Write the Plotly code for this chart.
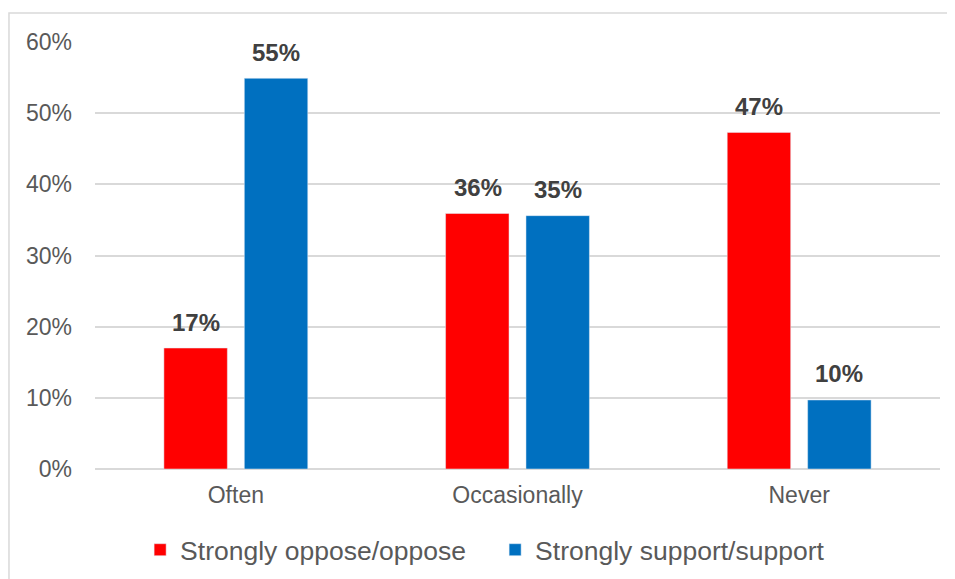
import plotly.graph_objects as go

categories = ["Often", "Occasionally", "Never"]
oppose = [0.17, 0.359, 0.473]
support = [0.549, 0.356, 0.097]
oppose_labels = ["17%", "36%", "47%"]
support_labels = ["55%", "35%", "10%"]
series_names = ["Strongly oppose/oppose", "Strongly support/support"]
tick_vals = [0, 0.1, 0.2, 0.3, 0.4, 0.5, 0.6]
tick_text = ["0%", "10%", "20%", "30%", "40%", "50%", "60%"]

RED = "#FF0000"
BLUE = "#0070C0"
FONT = "Liberation Sans, Arial, sans-serif"

fig = go.Figure()
fig.add_trace(go.Bar(x=categories, y=oppose, name=series_names[0], marker_color=RED))
fig.add_trace(go.Bar(x=categories, y=support, name=series_names[1], marker_color=BLUE))

annotations = []
for vals, labs, shift in [(oppose, oppose_labels, -40), (support, support_labels, 40)]:
    for c, v, t in zip(categories, vals, labs):
        annotations.append(dict(x=c, y=v, xref="x", yref="y", text="<b>" + t + "</b>",
                                showarrow=False, xshift=shift, yshift=26, yanchor="middle",
                                font=dict(family=FONT, size=24, color="#404040")))

fig.update_layout(
    width=947, height=571,
    margin=dict(l=87, r=15, t=34, b=110, autoexpand=False),
    paper_bgcolor="white", plot_bgcolor="white",
    barmode="group", bargap=0.429, bargroupgap=0.211,
    font=dict(family=FONT, size=23, color="#595959"),
    showlegend=True,
    legend=dict(orientation="h", x=0.0534, xanchor="left", yref="container", y=0.0508,
                yanchor="middle", entrywidth=310,
                font=dict(family=FONT, size=26.5, color="#595959"),
                traceorder="normal", bgcolor="rgba(0,0,0,0)"),
    annotations=annotations,
    shapes=[dict(type="rect", xref="paper", yref="paper", x0=-0.1018, y0=-0.5, x1=1.2, y1=1.0679,
                 line=dict(color="#D9D9D9", width=1.5), fillcolor="rgba(0,0,0,0)", layer="below")],
)
fig.update_xaxes(showgrid=False, showline=False, ticks="", ticklabelstandoff=10,
                 tickfont=dict(size=23, color="#595959"))
fig.update_yaxes(range=[0, 0.6], tickvals=tick_vals, ticktext=tick_text, showgrid=True,
                 gridcolor="#D9D9D9", gridwidth=1.5, zeroline=True, zerolinecolor="#D9D9D9",
                 zerolinewidth=1.5, showline=False, ticks="", ticklabelstandoff=22,
                 tickfont=dict(size=23, color="#595959"))

fig.write_html("out.html")
